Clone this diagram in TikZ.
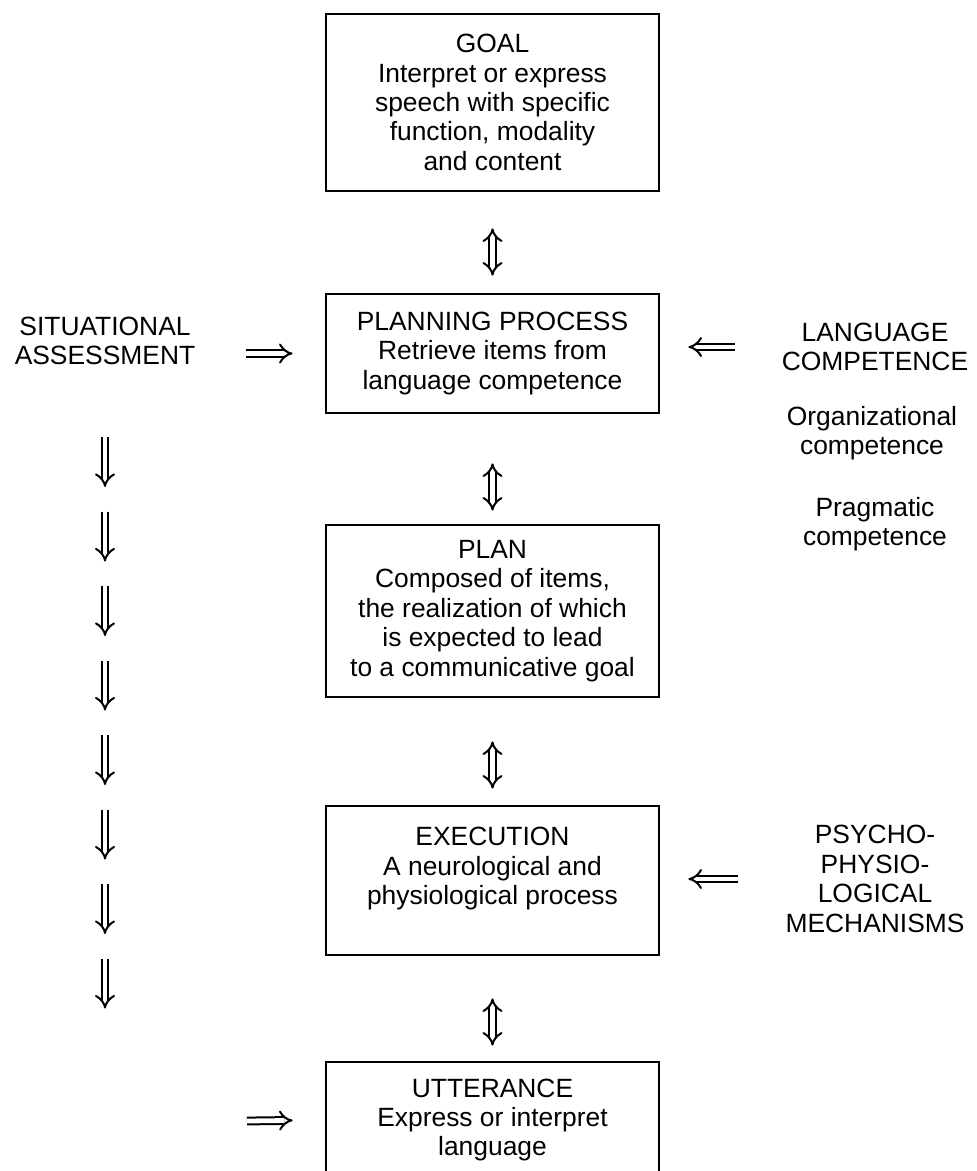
\documentclass[tikz,border=0pt]{standalone}
\usepackage{fontspec}
\setmainfont{Liberation Sans}
\usetikzlibrary{arrows.meta}

\begin{document}
\begin{tikzpicture}[x=0.5pt,y=-0.5pt,
    font=\fontsize{13.2pt}{14.7pt}\selectfont,
    box/.style={draw,line width=1.4pt,minimum width=166.5pt,align=center},
    sidetext/.style={align=center},
    dblarrow/.style={double,line width=1pt,double distance=2.4pt,-{Implies}},
    twoway/.style={double,line width=1pt,double distance=2.4pt,{Implies}-{Implies}}]
  \useasboundingbox (0,0) rectangle (976,1171);

  % the five boxes
  \node[box,minimum height=88.5pt] (goal) at (492.5,102.5)
    {GOAL\\Interpret or express\\speech with specific\\function, modality\\and content};
  \node[box,minimum height=59.5pt] (planning) at (492.5,353.5)
    {PLANNING PROCESS\\Retrieve items from\\language competence};
  \node[box,minimum height=86pt] (plan) at (492.5,611)
    {PLAN\\Composed of items,\\the realization of which\\is expected to lead\\to a communicative goal};
  \node[box,minimum height=74.5pt] (execution) at (492.5,880.5)
    {EXECUTION\\A neurological and\\physiological process\\\mbox{}};
  \node[box,minimum height=58pt] (utterance) at (492.5,1120)
    {UTTERANCE\\Express or interpret\\language};

  % side texts
  \node[sidetext] (situation) at (105,341) {SITUATIONAL\\ASSESSMENT};
  \node[sidetext] (language) at (875,347) {LANGUAGE\\COMPETENCE};
  \node[sidetext] (organizational) at (872,433) {Organizational\\competence};
  \node[sidetext] (pragmatic) at (875,524) {Pragmatic\\competence};
  \node[sidetext] (psycho) at (875,879) {PSYCHO-\\PHYSIO-\\LOGICAL\\MECHANISMS};
  \coordinate (uttfrom) at (247,1121);

  % arrows between the boxes
  \draw[twoway,shorten <=18pt,shorten >=8.5pt] (goal.south) -- (planning.north);
  \draw[twoway,shorten <=24.5pt,shorten >=6.5pt] (planning.south) -- (plan.north);
  \draw[twoway,shorten <=21.5pt,shorten >=8pt] (plan.south) -- (execution.north);
  \draw[twoway,shorten <=21pt,shorten >=7.5pt] (execution.south) -- (utterance.north);

  % arrows from the sides
  \draw[dblarrow,shorten <=22pt,shorten >=16pt] (situation.east |- planning.west) -- (planning.west);
  \draw[dblarrow,shorten <=20pt,shorten >=14pt] (language.west) -- (language.west -| planning.east);
  \draw[dblarrow,shorten <=20pt,shorten >=14pt] (psycho.west) -- (psycho.west -| execution.east);
  \draw[dblarrow,shorten >=16pt] (uttfrom) -- (utterance.west);

  % situational assessment goes all the way down
  \foreach \i in {0,...,7}
    \draw[dblarrow] (105,{437+74.5*\i}) -- ++(0,50);
\end{tikzpicture}
\end{document}
